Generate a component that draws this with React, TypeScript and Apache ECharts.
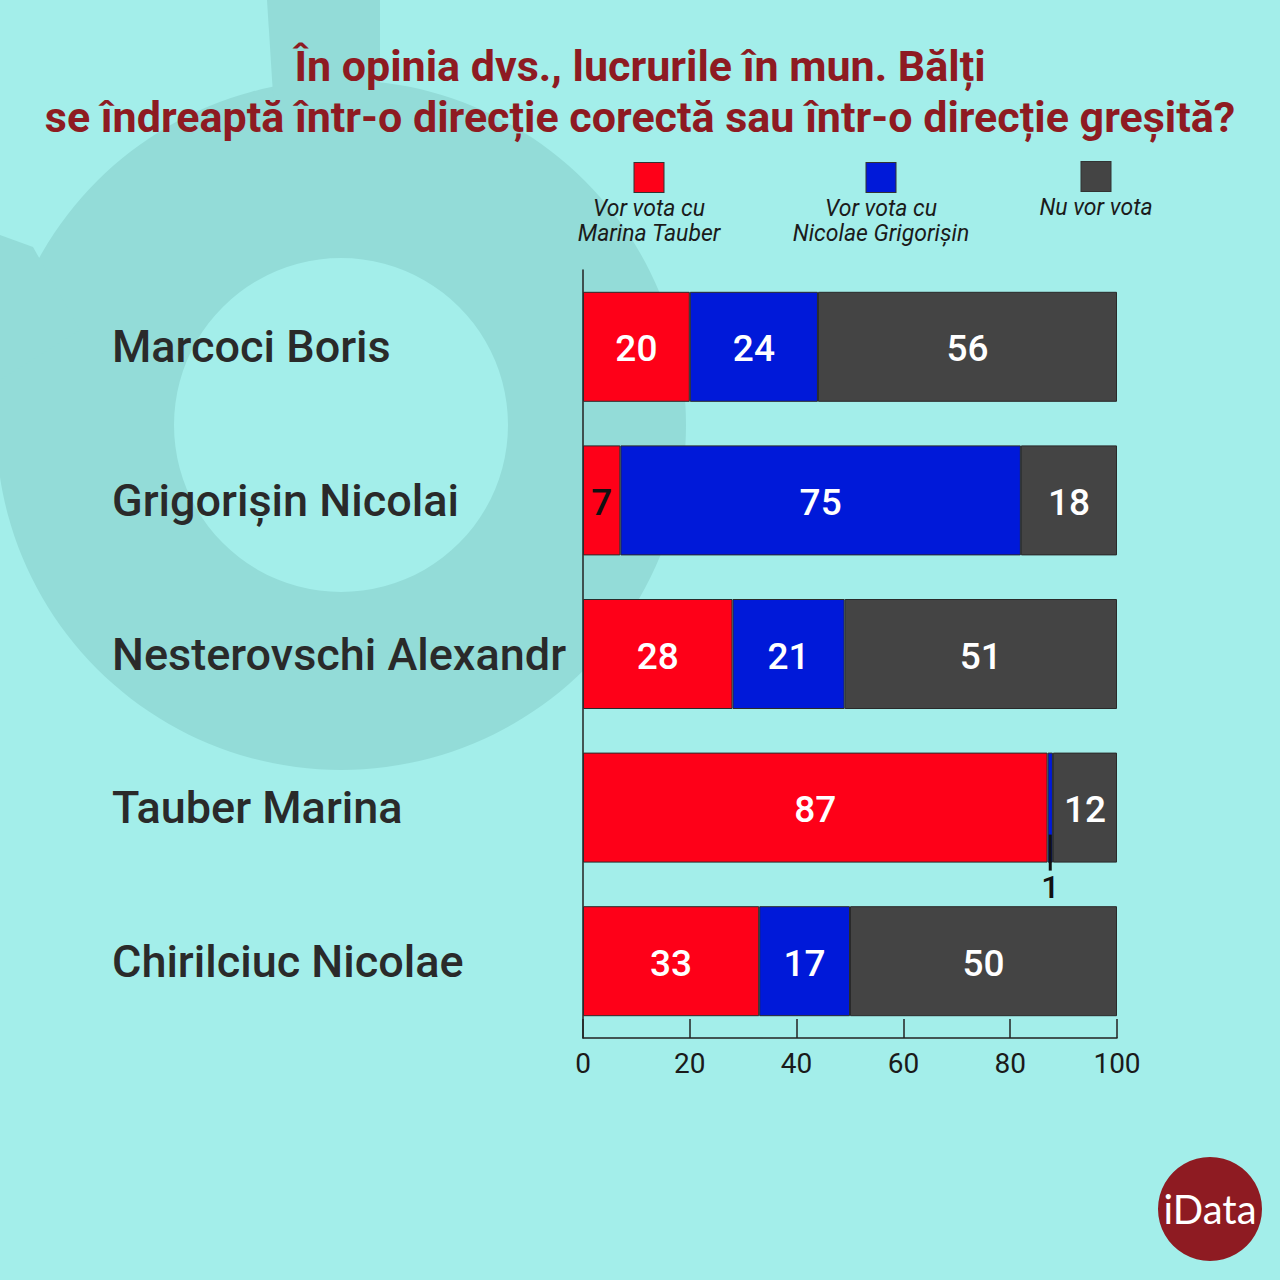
import React, { useEffect, useRef } from "react";
import * as echarts from "echarts";

const categories = [
  "Marcoci Boris",
  "Grigorișin Nicolai",
  "Nesterovschi Alexandr",
  "Tauber Marina",
  "Chirilciuc Nicolae",
];
const seriesNames = [
  "Vor vota cu\nMarina Tauber",
  "Vor vota cu\nNicolae Grigorișin",
  "Nu vor vota",
];
const tauberValues = [20, 7, 28, 87, 33];
const grigorisinValues = [24, 75, 21, 1, 17];
const nuVorVotaValues = [56, 18, 51, 12, 50];
const xTicks = [0, 20, 40, 60, 80, 100];

const titleText =
  "În opinia dvs., lucrurile în mun. Bălți\nse îndreaptă într-o direcție corectă sau într-o direcție greșită?";

const COLORS = ["#fe0018", "#0019d9", "#444444"];
const FONT = "Roboto";

function buildData(values: number[]) {
  return values.map((v) => {
    if (v < 5) {
      return {
        value: v,
        label: {
          show: true,
          position: "inside",
          offset: [0, 61],
          formatter: "{l|}\n{n|{c}}",
          rich: {
            l: { width: 3, height: 36, lineHeight: 36, backgroundColor: "#111", align: "center" },
            n: { fontSize: 32, fontWeight: 500, color: "#111", lineHeight: 32, align: "center", fontFamily: FONT },
          },
        },
      };
    }
    if (v < 10) {
      return { value: v, label: { color: "#111" } };
    }
    return v;
  });
}

function legendFor(i: number, left: number, top: number) {
  const keys = ["r", "b", "g"];
  const rich: any = {
    t: {
      width: 200,
      align: "center",
      fontSize: 23,
      fontStyle: "italic",
      color: "#1b1b1b",
      lineHeight: 25,
      fontFamily: FONT,
    },
  };
  rich[keys[i]] = {
    width: 29,
    height: 29,
    lineHeight: 37,
    backgroundColor: COLORS[i],
    borderColor: "#333",
    borderWidth: 1,
    align: "center",
  };
  return {
    data: [seriesNames[i]],
    left,
    top,
    padding: 0,
    icon: "none",
    itemWidth: 1,
    itemHeight: 1,
    selectedMode: false,
    formatter: (name: string) => `{${keys[i]}|}\n{t|${name}}`,
    textStyle: { rich },
  };
}

export default function App() {
  const ref = useRef<HTMLDivElement>(null);
  useEffect(() => {
    if (!ref.current) return;
    const chart = echarts.init(ref.current, null, { renderer: "svg" });
    const valuesList = [tauberValues, grigorisinValues, nuVorVotaValues];
    const option: any = {
      animation: false,
      backgroundColor: "#a3eeea",
      textStyle: { fontFamily: FONT },
      title: {
        text: titleText,
        left: "center",
        top: 40,
        padding: 0,
        textStyle: {
          fontSize: 43,
          fontWeight: "bold",
          color: "#8e1b22",
          lineHeight: 51,
          fontFamily: FONT,
        },
      },
      legend: [legendFor(0, 543, 162), legendFor(1, 775, 162), legendFor(2, 990, 161)],
      graphic: [
        {
          type: "ring",
          z: -10,
          silent: true,
          shape: { cx: 341, cy: 425, r: 345, r0: 167 },
          style: { fill: "#93dcd8" },
        },
        {
          type: "polygon",
          z: -10,
          silent: true,
          shape: { points: [[267, 0], [380, 0], [380, 110], [274, 110]] },
          style: { fill: "#93dcd8" },
        },
        {
          type: "polygon",
          z: -10,
          silent: true,
          shape: { points: [[0, 235], [33, 247], [80, 330], [0, 380]] },
          style: { fill: "#93dcd8" },
        },
        {
          type: "circle",
          shape: { cx: 1210, cy: 1209, r: 52 },
          style: { fill: "#8e1b22" },
        },
        {
          type: "text",
          x: 1210,
          y: 1209,
          style: {
            text: "iData",
            fill: "#ffffff",
            fontSize: 40,
            fontFamily: "Lato",
            fontWeight: 400,
            align: "center",
            verticalAlign: "middle",
          },
        },
      ],
      grid: { left: 583, width: 534, top: 270, height: 768, containLabel: false },
      xAxis: {
        type: "value",
        min: xTicks[0],
        max: xTicks[xTicks.length - 1],
        interval: xTicks[1] - xTicks[0],
        axisLine: { show: true, lineStyle: { color: "#222", width: 1.5 } },
        axisTick: { show: true, inside: true, length: 19, lineStyle: { color: "#222", width: 1.5 } },
        axisLabel: { fontSize: 28, color: "#1a1a1a", margin: 11, fontFamily: FONT },
        splitLine: { show: false },
      },
      yAxis: {
        type: "category",
        data: categories,
        inverse: true,
        axisLine: { show: true, lineStyle: { color: "#222", width: 1.5 } },
        axisTick: { show: false },
        axisLabel: {
          align: "left",
          margin: 471,
          fontSize: 45,
          fontWeight: 500,
          color: "#2a2a2a",
          fontFamily: FONT,
          padding: [4, 0, 0, 0],
        },
      },
      series: seriesNames.map((name, i) => ({
        type: "bar",
        name,
        stack: "total",
        barWidth: 110,
        data: buildData(valuesList[i]),
        itemStyle: { color: COLORS[i], borderColor: "#2a2a2a", borderWidth: 1 },
        label: {
          show: true,
          position: "inside",
          offset: [0, 2],
          fontSize: 37,
          fontWeight: 500,
          color: "#ffffff",
          fontFamily: FONT,
        },
      })),
    };
    chart.setOption(option);
    return () => chart.dispose();
  }, []);
  return (
    <div
      ref={ref}
      style={{ position: "fixed", left: 0, top: 0, width: 1280, height: 1280 }}
    />
  );
}
